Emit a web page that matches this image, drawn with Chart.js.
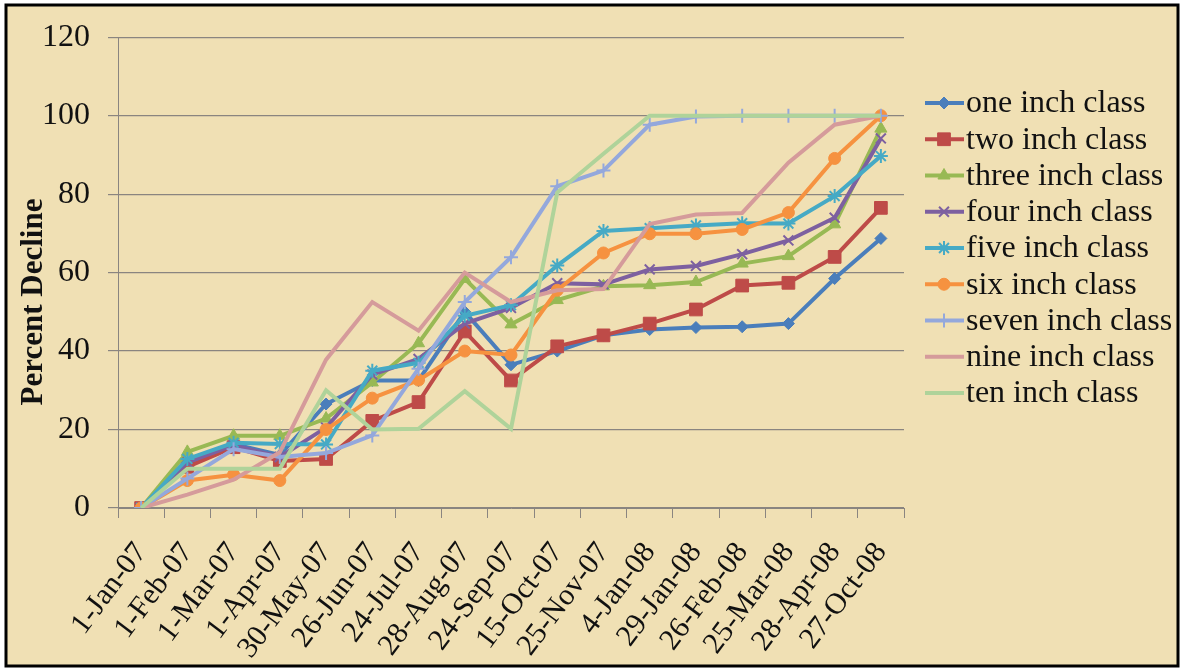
<!DOCTYPE html>
<html>
<head>
<meta charset="utf-8">
<script src="https://cdn.jsdelivr.net/npm/chart.js@4/dist/chart.umd.min.js"></script>
<style>
    html, body { margin: 0; padding: 0; background: #fff; }
    #wrap { width: 1183px; height: 669px; }
</style>
</head>
<body>
<div id="wrap"><canvas id="decline-chart" width="1183" height="669"></canvas></div>
<script>
let dates = ["1-Jan-07", "1-Feb-07", "1-Mar-07", "1-Apr-07", "30-May-07", "26-Jun-07", "24-Jul-07",
    "28-Aug-07", "24-Sep-07", "15-Oct-07", "25-Nov-07", "4-Jan-08", "29-Jan-08", "26-Feb-08",
    "25-Mar-08", "28-Apr-08", "27-Oct-08"];

let oneInch   = [0, 11.5, 16.3, 13.5, 26.5, 32.5, 32.5, 50, 36.5, 40, 44, 45.5, 46, 46.2, 47, 58.5, 68.7];
let twoInch   = [0, 10.5, 15.5, 12, 12.5, 22.2, 27, 45, 32.5, 41.2, 44, 47, 50.6, 56.7, 57.4, 64, 76.5];
let threeInch = [0, 14.3, 18.4, 18.4, 22.8, 32, 42, 58.4, 46.8, 53, 56.5, 56.8, 57.6, 62.3, 64.2, 72.3, 96.7];
let fourInch  = [0, 11.6, 16, 13, 20.5, 34, 38, 47, 51, 57.3, 57, 60.8, 61.7, 64.7, 68.2, 74, 94.2];
let fiveInch  = [0, 12.5, 16.6, 16.3, 16.2, 35, 37, 49, 51.7, 61.8, 70.6, 71.3, 72, 72.6, 72.5, 79.5, 89.7];
let sixInch   = [0, 7, 8.5, 7, 20, 28, 32.6, 40, 39, 55.5, 65, 69.9, 69.9, 71, 75.3, 89.1, 100];
let sevenInch = [0, 7.5, 15, 13, 14, 18.5, 35.5, 52.5, 63.9, 82, 86, 97.7, 99.8, 100, 100, 100, 100];
let nineInch  = [0, 3.4, 7.2, 14.2, 37.8, 52.5, 45.2, 60, 52.5, 55.5, 55.8, 72.4, 74.8, 75.2, 88, 97.7, 100];
let tenInch   = [0, 10, 10, 10, 30, 20, 20.2, 29.8, 20.2, 80.4, 90.3, 100, 100, 100, 100, 100, 100];

let seriesNames = ["one inch class", "two inch class", "three inch class", "four inch class",
    "five inch class", "six inch class", "seven inch class", "nine inch class", "ten inch class"];

const serif = "'Liberation Serif', 'Times New Roman', serif";
const gridGrey = "#8a8580";

function makeSet(i, data, color, style, radius, border) {
    return {
        label: seriesNames[i],
        data: data,
        borderColor: color,
        backgroundColor: color,
        borderWidth: 4,
        pointStyle: style,
        pointRadius: radius,
        pointBorderWidth: border,
        pointBorderColor: color,
        pointBackgroundColor: color,
        fill: false,
        tension: 0,
        order: 8 - i // Excel paints the last series on top
    };
}

let datasets = [
    makeSet(0, oneInch, "#4a7ebb", "rectRot", 6, 1),
    makeSet(1, twoInch, "#be4b48", "rect", 9, 1),
    makeSet(2, threeInch, "#98b954", "triangle", 7, 1),
    makeSet(3, fourInch, "#7d60a0", "crossRot", 7, 2),
    makeSet(4, fiveInch, "#46aac5", "star", 7, 2),
    makeSet(5, sixInch, "#f69240", "circle", 6, 1),
    makeSet(6, sevenInch, "#94a8dc", "cross", 7, 2),
    makeSet(7, nineInch, "#d59b9b", "circle", 0, 0),
    makeSet(8, tenInch, "#afd39a", "circle", 0, 0)
];

// paper background and black frame
let paper = {
    id: "paper",
    beforeDraw: function (chart) {
        let ctx = chart.ctx;
        ctx.save();
        ctx.fillStyle = "#ffffff";
        ctx.fillRect(0, 0, chart.width, chart.height);
        ctx.fillStyle = "#f0e0b4";
        ctx.fillRect(6, 5, 1172, 661);
        ctx.strokeStyle = "#000";
        ctx.lineWidth = 3;
        ctx.strokeRect(6, 5, 1172, 661);
        ctx.restore();
    }
};

// y title and Excel style legend (line + marker)
let extras = {
    id: "extras",
    afterDraw: function (chart) {
        let ctx = chart.ctx;
        ctx.save();
        ctx.translate(42, 302);
        ctx.rotate(-Math.PI / 2);
        ctx.font = "bold 31px " + serif;
        ctx.fillStyle = "#111";
        ctx.textAlign = "center";
        ctx.textBaseline = "alphabetic";
        ctx.fillText("Percent Decline", 0, 0);
        ctx.restore();

        chart.data.datasets.forEach(function (ds, i) {
            let y = 103 + 36.25 * i;
            ctx.save();
            ctx.strokeStyle = ds.borderColor;
            ctx.lineWidth = 4;
            ctx.beginPath();
            ctx.moveTo(925, y);
            ctx.lineTo(964, y);
            ctx.stroke();
            if (ds.pointRadius > 0) {
                ctx.fillStyle = ds.pointBackgroundColor;
                ctx.strokeStyle = ds.pointBorderColor;
                ctx.lineWidth = ds.pointBorderWidth;
                Chart.helpers.drawPoint(ctx, {
                    pointStyle: ds.pointStyle,
                    radius: ds.pointRadius,
                    rotation: 0,
                    borderWidth: ds.pointBorderWidth
                }, 944, y);
            }
            ctx.fillStyle = "#111";
            ctx.font = "32px " + serif;
            ctx.textAlign = "left";
            ctx.textBaseline = "middle";
            ctx.fillText(ds.label, 966, y + 1);
            ctx.restore();
        });
    }
};

new Chart(document.getElementById("decline-chart"), {
    type: "line",
    data: {
        labels: dates,
        datasets: datasets
    },
    options: {
        responsive: false,
        animation: false,
        devicePixelRatio: 1,
        layout: {
            padding: { left: 0, right: 279, top: 33, bottom: 0 }
        },
        plugins: {
            legend: { display: false },
            tooltip: { enabled: false }
        },
        scales: {
            x: {
                offset: true,
                afterFit: function (scale) { scale.height = 161; },
                grid: {
                    offset: true,
                    drawOnChartArea: false,
                    drawTicks: true,
                    tickLength: 10,
                    color: gridGrey
                },
                border: { display: true, color: gridGrey, width: 1 },
                ticks: {
                    autoSkip: false,
                    minRotation: 53,
                    maxRotation: 53,
                    padding: 18,
                    color: "#111",
                    font: { family: serif, size: 30 }
                }
            },
            y: {
                min: 0,
                max: 120,
                afterFit: function (scale) { scale.width = 118; },
                grid: {
                    color: gridGrey,
                    lineWidth: 1.2,
                    tickLength: 10
                },
                border: { display: true, color: gridGrey, width: 1 },
                ticks: {
                    stepSize: 20,
                    padding: 18,
                    color: "#111",
                    font: { family: serif, size: 32 }
                }
            }
        }
    },
    plugins: [paper, extras]
});
</script>
</body>
</html>
